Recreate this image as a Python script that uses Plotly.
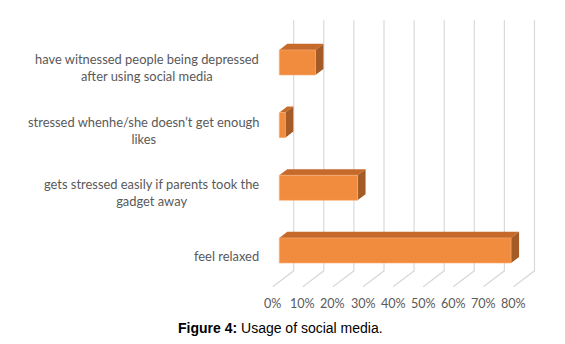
import plotly.graph_objects as go

# ---- data ----
categories = [
    "have witnessed people being depressed<br>after using social media",
    "stressed whenhe/she doesn’t get enough<br>likes",
    "gets stressed easily if parents took the<br>gadget away",
    "feel relaxed",
]
values = [12, 2, 26, 77]          # percent
tick_values = [0, 10, 20, 30, 40, 50, 60, 70, 80]
tick_labels = ["0%", "10%", "20%", "30%", "40%", "50%", "60%", "70%", "80%"]

# ---- styling / projection ----
W, H = 565, 344
X0_PX, PX_PER_UNIT = 272.7, 3.01
Y0_PX, PX_PER_CAT = 67.5, 62.67
DX = 21 / PX_PER_UNIT          # value-units shift per full depth
DY = -16 / PX_PER_CAT          # category-units shift per full depth
D0, D1 = 0.314, 0.695          # bar depth (front, back)
HALF = 0.2                     # bar half height in category units

FRONT = "#F18B3D"
TOP = "#C56A2B"
SIDE = "#A55B25"
GRID = "#D9D9D9"
TEXT = "#595959"


def P(v, c, d):
    return v + d * DX, c + d * DY


def poly(pts, color, lw=0, lc=None):
    xs = [p[0] for p in pts] + [pts[0][0]]
    ys = [p[1] for p in pts] + [pts[0][1]]
    return go.Scatter(x=xs, y=ys, mode="lines", fill="toself", fillcolor=color,
                      line=dict(width=lw, color=lc or color), hoverinfo="skip",
                      showlegend=False)


fig = go.Figure()

n = len(categories)
floor_c = n - 0.5
top_c = -0.5

# gridlines: back wall verticals + floor diagonals
for v in tick_values:
    bx, by_bot = P(v, floor_c, 1)
    _, by_top = P(v, top_c, 1)
    fx, fy = P(v, floor_c, 0)
    fig.add_trace(go.Scatter(x=[fx, bx, bx], y=[fy, by_bot, by_top], mode="lines",
                             line=dict(color=GRID, width=1.2), hoverinfo="skip",
                             showlegend=False))

# bars
for i, val in enumerate(values):
    yt, yb = i - HALF, i + HALF
    top = [P(0, yt, D0), P(val, yt, D0), P(val, yt, D1), P(0, yt, D1)]
    side = [P(val, yt, D0), P(val, yb, D0), P(val, yb, D1), P(val, yt, D1)]
    front = [P(0, yt, D0), P(val, yt, D0), P(val, yb, D0), P(0, yb, D0)]
    fig.add_trace(poly(top, TOP))
    fig.add_trace(poly(side, SIDE))
    fig.add_trace(poly(front, FRONT, 0.6, "#F6B07A"))

annotations = []
label_x = (261 - X0_PX) / PX_PER_UNIT
for i, lab in enumerate(categories):
    annotations.append(dict(x=label_x, y=i, xref="x", yref="y", text=lab,
                            showarrow=False, xanchor="right", yanchor="middle",
                            align="center",
                            font=dict(family="Lato", size=12.9, color=TEXT)))
tick_y = (303 - Y0_PX) / PX_PER_CAT
for v, t in zip(tick_values, tick_labels):
    annotations.append(dict(x=v, y=tick_y, xref="x", yref="y", text=t,
                            showarrow=False, xanchor="center", yanchor="middle",
                            font=dict(family="Lato", size=12.6, color=TEXT)))
annotations.append(dict(x=280.7 / W, y=1 - 328 / H, xref="paper", yref="paper",
                        text="<b>Figure 4:</b> Usage of social media.",
                        showarrow=False, xanchor="center", yanchor="middle",
                        font=dict(family="Liberation Sans, Arial", size=14, color="#000000")))

fig.update_layout(
    width=W, height=H,
    margin=dict(l=0, r=0, t=0, b=0),
    paper_bgcolor="white", plot_bgcolor="white",
    xaxis=dict(range=[-X0_PX / PX_PER_UNIT, (W - X0_PX) / PX_PER_UNIT],
               visible=False, fixedrange=True),
    yaxis=dict(range=[(H - Y0_PX) / PX_PER_CAT, -Y0_PX / PX_PER_CAT],
               visible=False, fixedrange=True),
    annotations=annotations,
    showlegend=False,
    hovermode=False,
)

fig.write_html("out.html", config={"displayModeBar": False},
               post_script="document.body.style.margin='0';document.body.style.overflow='hidden';")
